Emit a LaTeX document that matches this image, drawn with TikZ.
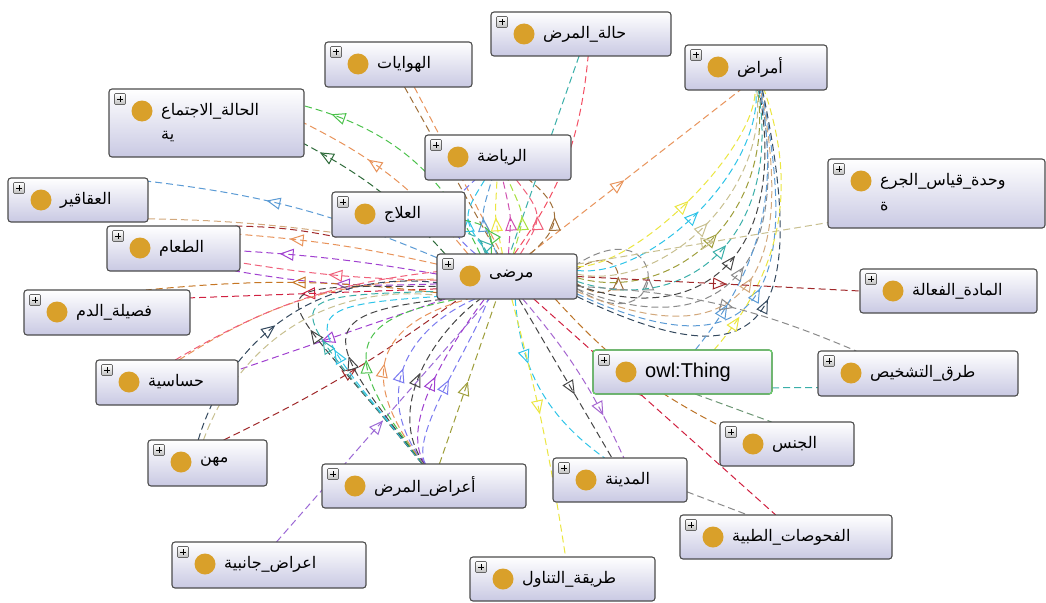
\documentclass[tikz,border=0pt]{standalone}
\usepackage{fontspec}
\setmainfont{Liberation Sans}
\newfontfamily\arabicfont[Script=Arabic]{DejaVu Sans}
\newfontfamily\latinfont{Liberation Sans}
\TeXXeTstate=1
\usetikzlibrary{arrows.meta, decorations.markings}
\pgfdeclarelayer{bg}
\pgfsetlayers{bg,main}

\definecolor{lav}{HTML}{C9C9E3}
\definecolor{goldc}{HTML}{D9A02A}
\definecolor{cthing}{HTML}{66D066}
\definecolor{cgreen}{HTML}{4CC24C}
\definecolor{cdkgreen}{HTML}{2E6B3A}
\definecolor{corange}{HTML}{E8935A}
\definecolor{cblue}{HTML}{5B9BD5}
\definecolor{ctan}{HTML}{D2A87C}
\definecolor{cpink}{HTML}{F0607A}
\definecolor{cpurple}{HTML}{A040D0}
\definecolor{cred}{HTML}{D02040}
\definecolor{cdkred}{HTML}{A0282A}
\definecolor{cdkblue}{HTML}{34495E}
\definecolor{cbrown}{HTML}{A0703A}
\definecolor{cteal}{HTML}{3AAFA9}
\definecolor{ccyan}{HTML}{2EC4E8}
\definecolor{cyellow}{HTML}{EBE640}
\definecolor{colive}{HTML}{9E9E3A}
\definecolor{cgray}{HTML}{8A8A8A}
\definecolor{cdkgray}{HTML}{454545}
\definecolor{cviolet}{HTML}{7A7AF0}
\definecolor{cmagenta}{HTML}{D050B0}
\definecolor{clime}{HTML}{A8E040}
\definecolor{cbeige}{HTML}{C8C090}

\tikzset{
  clsbox/.style={draw=black!70, line width=1.1pt, rounded corners=3pt, top color=white, bottom color=lav, inner sep=0pt, outer sep=0pt},
  plusbox/.style={draw=black!60, line width=0.6pt, top color=white, bottom color=black!25, minimum size=11pt, inner sep=0pt, rounded corners=1pt},
  golddot/.style={circle, fill=goldc, minimum size=21pt, inner sep=0pt},
  lbl/.style={anchor=west, inner sep=0pt, font=\arabicfont\fontsize{16}{18}\selectfont},
  rel/.style 2 args={color=#1, dash pattern=on 7pt off 4pt, line width=1pt,
    postaction={decorate, decoration={markings, mark=at position #2 with {\arrow{Triangle[open, length=14pt, width=12pt, line width=1pt]}}}}},
  link/.style={color=#1, dash pattern=on 7pt off 4pt, line width=1pt}
}

\newcommand{\clsnode}[7]{%
  \node[clsbox, minimum width={#4-#2}, minimum height={#5-#3}] (#1) at ({(#2+#4)/2},{(#3+#5)/2}) {};
  \node[plusbox] (#1p) at ([shift={(11,10)}]#1.north west) {};
  \draw[line width=1pt] ([shift={(-3,0)}]#1p.center) -- ([shift={(3,0)}]#1p.center)
    ([shift={(0,-3)}]#1p.center) -- ([shift={(0,3)}]#1p.center);
  \node[golddot] (#1c) at ([shift={(33,22)}]#1.north west) {};
  \node[lbl] (#1t) at ([shift={(52,22)}]#1.north west) {#6};
  \node[lbl] (#1u) at ([shift={(52,48)}]#1.north west) {#7};
}

\begin{document}
\begin{tikzpicture}[x=1pt,y=-1pt]

	\useasboundingbox (0,0) rectangle (1046,602);

	\clsnode{hala}{491}{12}{671}{56}{\beginR حالة\_المرض\endR}{}
	\clsnode{hiwayat}{325}{42}{472}{87}{\beginR الهوايات\endR}{}
	\clsnode{amrad}{685}{45}{827}{90}{\beginR أمراض\endR}{}
	\clsnode{ijtima}{109}{89}{304}{157}{\beginR الحالة\_الاجتماع\endR}{\beginR ية\endR}
	\clsnode{riyada}{425}{135}{571}{180}{\beginR الرياضة\endR}{}
	\clsnode{aqaqir}{8}{178}{148}{222}{\beginR العقاقير\endR}{}
	\clsnode{ilaj}{332}{192}{465}{237}{\beginR العلاج\endR}{}
	\clsnode{jura}{828}{159}{1045}{228}{\beginR وحدة\_قياس\_الجرع\endR}{\beginR ة\endR}
	\clsnode{taam}{107}{226}{240}{271}{\beginR الطعام\endR}{}
	\clsnode{marda}{437}{254}{577}{299}{\beginR مرضى\endR}{}
	\clsnode{faala}{860}{269}{1037}{313}{\beginR المادة\_الفعالة\endR}{}
	\clsnode{dam}{24}{290}{190}{335}{\beginR فصيلة\_الدم\endR}{}
	\clsnode{thing}{593}{350}{772}{394}{\latinfont\fontsize{20}{22}\selectfont owl:Thing}{}
	\clsnode{tashkhis}{818}{351}{1018}{396}{\beginR طرق\_التشخيص\endR}{}
	\clsnode{hasasiya}{96}{360}{238}{405}{\beginR حساسية\endR}{}
	\clsnode{jins}{720}{422}{854}{466}{\beginR الجنس\endR}{}
	\clsnode{mihan}{148}{440}{267}{486}{\beginR مهن\endR}{}
	\clsnode{aarad}{322}{464}{526}{508}{\beginR أعراض\_المرض\endR}{}
	\clsnode{madina}{553}{458}{687}{502}{\beginR المدينة\endR}{}
	\clsnode{fuhusat}{680}{515}{892}{559}{\beginR الفحوصات\_الطبية\endR}{}
	\clsnode{janibiya}{172}{542}{366}{588}{\beginR اعراض\_جانبية\endR}{}
	\clsnode{tanawul}{470}{557}{655}{601}{\beginR طريقة\_التناول\endR}{}
	\draw[cthing, line width=1.3pt, rounded corners=3pt] (thing.north west) rectangle (thing.south east);

	\begin{pgfonlayer}{bg}
	\fill[white] (0,0) rectangle (1046,602);

	\draw[rel={cgreen}{0.88}] (marda.140) to[bend right=25] (ijtima.10);
	\draw[rel={corange}{0.65}] (marda.150) to[bend right=12] (ijtima.0);
	\draw[rel={cdkgreen}{0.9}] (marda.160) to[bend right=10] (ijtima.-12);
	\draw[rel={cblue}{0.6}] (marda.165) to[bend right=8] (aqaqir.15);
	\draw[link={ctan}] (aqaqir.-15) to[bend left=3] (ilaj.195);
	\draw[link={cdkred}] (taam.20) to[bend left=5] (ilaj.200);
	\draw[rel={corange}{0.75}] (marda.170) to[bend right=4] (taam.12);
	\draw[rel={cpurple}{0.8}] (marda.178) to[bend right=3] (taam.-2);
	\draw[rel={cpink}{0.55}] (marda.183) to[bend left=4] (taam.-12);
	\draw[rel={cpurple}{0.5}] (marda.186) to[bend left=6] (taam.-20);
	\draw[rel={cred}{0.55}] (marda.190) to (dam.10);
	\draw[rel={cbrown!60!orange}{0.5}] (marda.193) to[bend right=6] (dam.30);
	\draw[rel={cpurple}{0.6}] (marda.200) to (hasasiya.10);
	\draw[link={corange}] (hasasiya.62) to[bend left=15] (marda.182);
	\draw[link={cpink}] (hasasiya.70) to[bend left=12] (marda.176);
	\draw[rel={cdkblue}{0.45}] (mihan.112) to[bend left=40] (marda.185);
	\draw[link={cbeige}] (mihan.100) to[bend left=38] (marda.195);
	\draw[rel={cdkred}{0.55}] (mihan.55) to[bend right=5] (marda.205);
	\draw[rel={cviolet!60!cmagenta}{0.5}] (janibiya.72) to (marda.232);

	\draw[rel={colive}{0.5}] (aarad.55) to (marda.245);
	\draw[rel={cdkgray}{0.5}] (aarad.95) .. controls +(-150,-185) and +(-200,0) .. (marda.188);
	\draw[rel={cteal}{0.5}] (aarad.94) .. controls +(-134,-165) and +(-178,5) .. (marda.192);
	\draw[rel={ccyan}{0.5}] (aarad.93) .. controls +(-118,-146) and +(-156,10) .. (marda.196);
	\draw[rel={cdkgray}{0.5}] (aarad.92) .. controls +(-102,-127) and +(-134,15) .. (marda.200);
	\draw[rel={cgreen}{0.5}] (aarad.91) .. controls +(-86,-108) and +(-112,20) .. (marda.205);
	\draw[rel={corange}{0.5}] (aarad.90) .. controls +(-70,-89) and +(-90,25) .. (marda.210);
	\draw[rel={cviolet}{0.5}] (aarad.89) .. controls +(-54,-70) and +(-68,30) .. (marda.215);
	\draw[rel={cdkgray}{0.5}] (aarad.88) .. controls +(-40,-53) and +(-48,35) .. (marda.220);
	\draw[rel={cpurple}{0.5}] (aarad.87) .. controls +(-28,-40) and +(-30,40) .. (marda.225);
	\draw[rel={cviolet}{0.5}] (aarad.86) .. controls +(-17,-28) and +(-15,45) .. (marda.230);

	\draw[link={cbrown}] (hiwayat.-75) to (marda.112);
	\draw[link={corange}] (hiwayat.-55) to (marda.104);
	\draw[link={cteal}] (hala.-95) to (marda.83);
	\draw[rel={cpink!80!red}{0.5}] (marda.72) to[bend right=15] (hala.-72);
	\draw[rel={corange}{0.45}] (marda.45) to (amrad.235);

	\draw[rel={cviolet}{0.5}] (marda) to[bend left=50, looseness=1.5] (riyada);
	\draw[rel={ccyan}{0.5}] (marda) to[bend left=35, looseness=1.5] (riyada);
	\draw[rel={cblue}{0.5}] (marda) to[bend left=20, looseness=1.5] (riyada);
	\draw[rel={cyellow}{0.5}] (marda) to[bend left=7, looseness=1.5] (riyada);
	\draw[rel={cmagenta}{0.5}] (marda) to[bend right=8, looseness=1.5] (riyada);
	\draw[rel={clime}{0.5}] (marda) to[bend right=20, looseness=1.5] (riyada);
	\draw[rel={cpink}{0.5}] (marda) to[bend right=35, looseness=1.5] (riyada);
	\draw[rel={cbrown}{0.5}] (marda) to[bend right=50, looseness=1.5] (riyada);
	\draw[rel={cgreen}{0.5}] (marda.125) to[bend right=40, looseness=1.5] (ilaj.-5);
	\draw[rel={cteal}{0.5}] (marda.132) to[bend right=25, looseness=1.3] (ilaj.-15);

	\draw[rel={cbrown}{0.5}] (marda.-6) .. controls +(55,35) and +(55,-35) .. (marda.6);
	\draw[rel={cgray}{0.5}] (marda.-10) .. controls +(95,60) and +(95,-60) .. (marda.10);

	\draw[rel={cyellow}{0.5}] (marda.8) .. controls +(60,0) and +(0,60) .. (amrad.-92);
	\draw[rel={ccyan}{0.5}] (marda.5) .. controls +(72,9) and +(6,82) .. (amrad.-90);
	\draw[rel={cbeige}{0.5}] (marda.2) .. controls +(84,18) and +(12,104) .. (amrad.-88);
	\draw[rel={colive}{0.5}] (marda.-1) .. controls +(96,27) and +(18,126) .. (amrad.-86);
	\draw[rel={cteal}{0.5}] (marda.-4) .. controls +(108,36) and +(24,148) .. (amrad.-84);
	\draw[rel={cdkgray}{0.5}] (marda.-7) .. controls +(120,44) and +(30,170) .. (amrad.-82);
	\draw[rel={cgray}{0.5}] (marda.-10) .. controls +(132,53) and +(36,192) .. (amrad.-80);
	\draw[rel={ctan}{0.5}] (marda.-12) .. controls +(144,62) and +(42,214) .. (amrad.-78);
	\draw[rel={cblue}{0.5}] (marda.-14) .. controls +(156,71) and +(48,236) .. (amrad.-76);
	\draw[rel={cdkblue}{0.5}] (marda.-16) .. controls +(168,80) and +(54,258) .. (amrad.-74);
	\draw[rel={cblue}{0.2}] (thing.60) to[bend right=25] (amrad.-80);
	\draw[rel={cyellow}{0.15}] (thing.35) to[bend right=30] (amrad.-70);

	\draw[rel={cbeige}{0.55}] (marda.10) to (jura.195);
	\draw[rel={cdkred}{0.53}] (marda.east) to (faala.west);
	\draw[rel={cgray}{0.55}] (marda.-8) to[bend left=10] (tashkhis.160);
	\draw[link={cteal}] (thing.-10) to (tashkhis.188);
	\draw[link={cdkgreen!70}] (thing.-60) to (jins.125);
	\draw[rel={cbrown!70!orange}{0.5}] (marda.-25) to[bend right=10] (jins.165);
	\draw[rel={cred}{0.45}] (marda.-40) to (fuhusat.115);
	\draw[rel={cdkgray}{0.6}] (marda.-62) to (madina.110);
	\draw[rel={cviolet!50!cmagenta}{0.75}] (marda.-55) to[bend left=8] (madina.80);
	\draw[rel={ccyan}{0.35}] (marda.-70) to[bend right=25] (madina.125);
	\draw[rel={cyellow}{0.45}] (marda.-78) to[bend left=3] (tanawul.82);
	\draw[link={cgray}] (madina.-10) to (fuhusat.150);
	\end{pgfonlayer}

\end{tikzpicture}
\end{document}
